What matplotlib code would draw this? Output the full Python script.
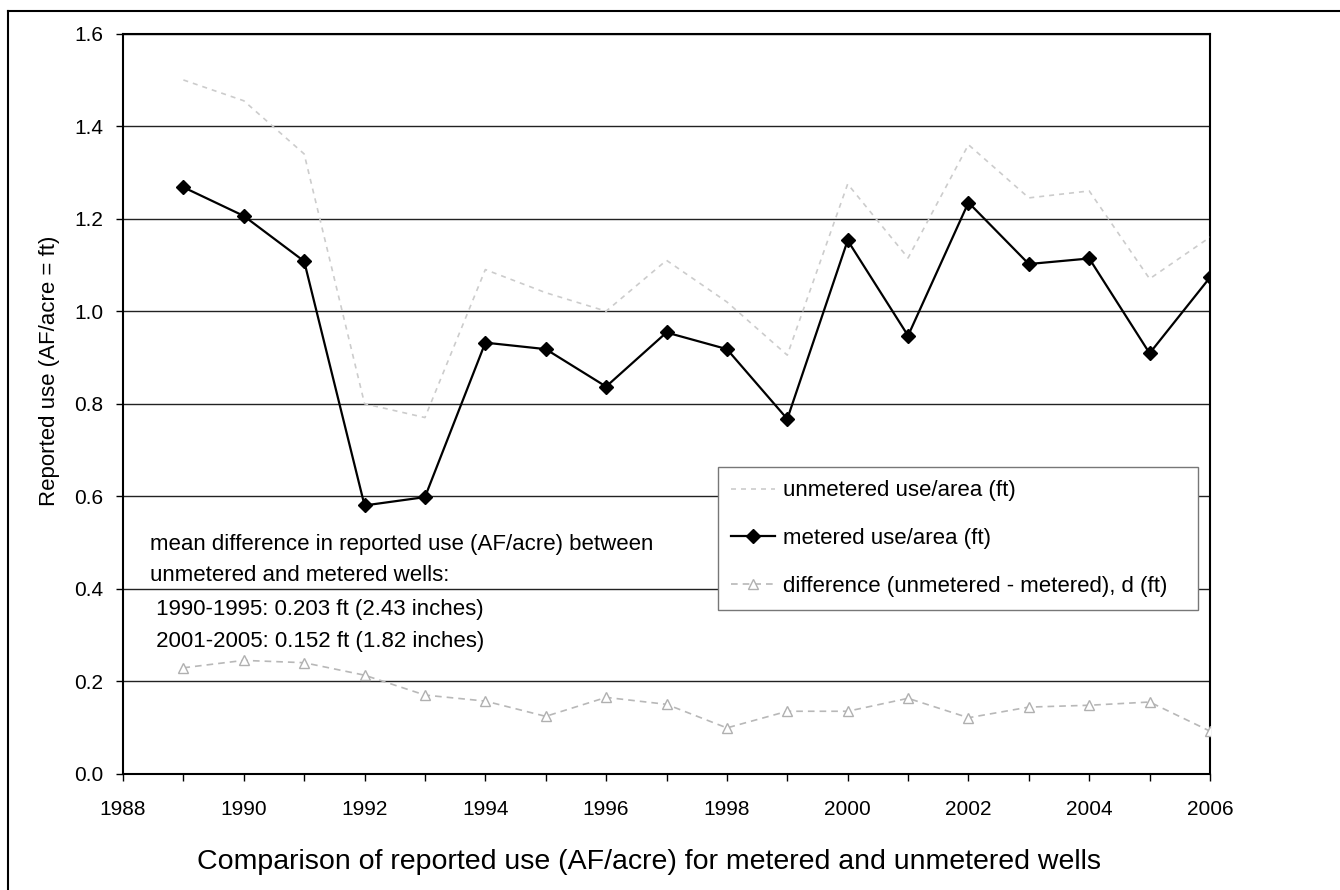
import matplotlib
matplotlib.use('Agg')
import matplotlib.pyplot as plt
from matplotlib.lines import Line2D
from matplotlib.ticker import MultipleLocator, FormatStrFormatter

plt.rcParams['font.family'] = ['Liberation Sans', 'DejaVu Sans']

# Reported use per year (AF/acre = ft)
years = [1989, 1990, 1991, 1992, 1993, 1994, 1995, 1996, 1997,
         1998, 1999, 2000, 2001, 2002, 2003, 2004, 2005, 2006]
unmetered = [1.50, 1.455, 1.34, 0.80, 0.77, 1.09, 1.04, 1.00, 1.11,
             1.02, 0.905, 1.275, 1.115, 1.36, 1.245, 1.26, 1.07, 1.16]
metered = [1.268, 1.206, 1.108, 0.580, 0.598, 0.932, 0.918, 0.837, 0.954,
           0.918, 0.767, 1.153, 0.947, 1.235, 1.102, 1.114, 0.909, 1.073]
difference = [0.229, 0.245, 0.240, 0.213, 0.170, 0.157, 0.124, 0.165, 0.150,
              0.099, 0.135, 0.135, 0.163, 0.121, 0.144, 0.148, 0.155, 0.092]

series_labels = ['unmetered use/area (ft)',
                 'metered use/area (ft)',
                 'difference (unmetered - metered), d (ft)']
note_lines = ['mean difference in reported use (AF/acre) between',
              'unmetered and metered wells:',
              ' 1990-1995: 0.203 ft (2.43 inches)',
              ' 2001-2005: 0.152 ft (1.82 inches)']
xlabel = 'Comparison of reported use (AF/acre) for metered and unmetered wells'
ylabel = 'Reported use (AF/acre = ft)'

W, H = 1340, 890
fig = plt.figure(figsize=(W / 100, H / 100), dpi=100)
ax = fig.add_axes([123 / W, 1 - 773.7 / H, (1210 - 123) / W, (773.7 - 33.7) / H])

# outer frame around the chart area
fig.add_artist(Line2D([7.5 / W, 7.5 / W], [0, 1 - 10.5 / H], transform=fig.transFigure,
                      color='black', lw=1.5))
fig.add_artist(Line2D([7.5 / W, 1], [1 - 10.5 / H, 1 - 10.5 / H], transform=fig.transFigure,
                      color='black', lw=1.5))

l_unm, = ax.plot(years, unmetered, color='#cccccc', lw=1.2, ls=(0, (3, 3)), zorder=3)
l_met, = ax.plot(years, metered, color='black', lw=1.6, marker='D', ms=7.5,
                 mfc='black', mec='black', zorder=4)
l_dif, = ax.plot(years, difference, color='#b8b8b8', lw=1.2, ls=(0, (4, 3)),
                 marker='^', ms=7, mfc='white', mec='#b0b0b0', mew=1.0, zorder=3)

ax.set_xlim(1988, 2006)
ax.set_ylim(0, 1.6)
ax.xaxis.set_major_locator(MultipleLocator(2))
ax.xaxis.set_minor_locator(MultipleLocator(1))
ax.yaxis.set_major_locator(MultipleLocator(0.2))
ax.yaxis.set_major_formatter(FormatStrFormatter('%.1f'))
ax.tick_params(axis='x', which='both', direction='out', length=5, width=1, pad=14, labelsize=15)
ax.tick_params(axis='y', which='major', direction='out', length=5, width=1, pad=9, labelsize=15)

ax.grid(axis='y', color='#222222', lw=1.0)
ax.set_axisbelow(True)
for s in ax.spines.values():
    s.set_color('black')
    s.set_linewidth(1.5)

leg = ax.legend([l_unm, l_met, l_dif], series_labels, loc='lower left',
                bbox_to_anchor=(0.547, 0.221, 0.442, 0.19), mode='expand',
                fontsize=16, frameon=True, fancybox=False, framealpha=1,
                edgecolor='#777777', borderpad=0.6, labelspacing=1.2,
                handlelength=2.0, handletextpad=0.35, borderaxespad=0)
leg.get_frame().set_linewidth(1.0)

baselines = [550, 581, 615, 647]
for txt, yb in zip(note_lines, baselines):
    fig.text(150 / W, 1 - yb / H, txt, fontsize=16, ha='left', va='baseline')

fig.text(197 / W, 1 - 862 / H, xlabel, fontsize=20.5, ha='left', va='center')
fig.text(49 / W, 1 - 371 / H, ylabel, fontsize=16, rotation=90, ha='center', va='center')

fig.savefig('out.png', dpi=100)
